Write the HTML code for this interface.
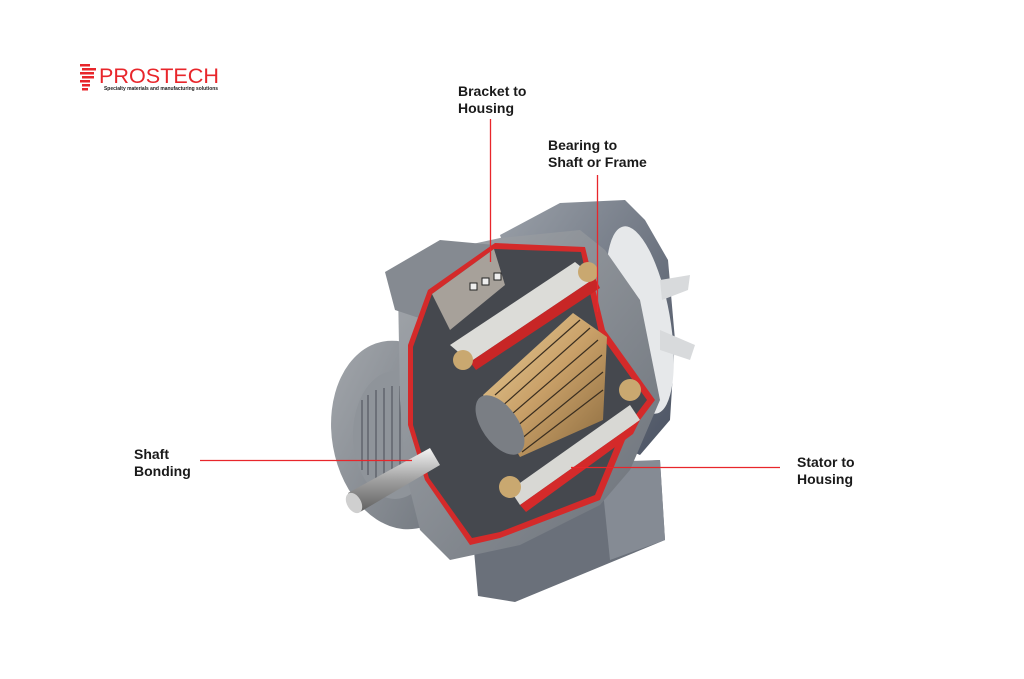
<!DOCTYPE html>
<html><head><meta charset="utf-8"><style>
html,body{margin:0;padding:0;background:#fff}
svg{display:block}
text{font-family:"Liberation Sans",sans-serif}
</style></head><body>
<svg width="1024" height="679" viewBox="0 0 1024 679" xmlns="http://www.w3.org/2000/svg">
<defs>
<linearGradient id="gold" x1="0" y1="0" x2="1" y2="1">
<stop offset="0" stop-color="#e8cf9a"/><stop offset="0.5" stop-color="#c9a068"/><stop offset="1" stop-color="#8a6a3e"/></linearGradient>
<linearGradient id="grey" x1="0" y1="0" x2="1" y2="1">
<stop offset="0" stop-color="#a4a8ad"/><stop offset="1" stop-color="#6a7078"/></linearGradient>
<linearGradient id="blue" x1="0" y1="0" x2="1" y2="1">
<stop offset="0" stop-color="#9aa0a8"/><stop offset="1" stop-color="#4a5262"/></linearGradient>
<linearGradient id="shaft" x1="0" y1="0" x2="0" y2="1">
<stop offset="0" stop-color="#f4f4f4"/><stop offset="0.5" stop-color="#a0a0a0"/><stop offset="1" stop-color="#606060"/></linearGradient>
</defs>
<!-- logo -->
<g fill="#e8262b">
<rect x="80" y="64" width="10" height="2.5"/><rect x="82" y="68" width="14" height="2.5"/><rect x="80" y="72" width="14" height="2.5"/>
<rect x="82" y="76" width="12" height="2.5"/><rect x="80" y="80" width="10" height="2.5"/><rect x="82" y="84" width="8" height="2.5"/><rect x="82" y="88" width="6" height="2.5"/>
</g>
<text x="99" y="83" font-size="21" fill="#e8262b" textLength="120" lengthAdjust="spacingAndGlyphs">PROSTECH</text>
<text x="104" y="90" font-size="5" fill="#222" font-weight="bold" textLength="114" lengthAdjust="spacingAndGlyphs">Specialty materials and manufacturing solutions</text>

<!-- back housing -->
<path d="M500,235 L560,203 L625,200 L645,220 L668,260 L675,340 L670,420 L640,455 L560,420 Z" fill="url(#blue)"/>
<!-- fan -->
<ellipse cx="640" cy="320" rx="30" ry="95" fill="#e6e8ea" transform="rotate(-10 640 320)"/>
<path d="M660,280 L690,275 L688,290 L662,300 Z M660,330 L695,345 L690,360 L660,350 Z" fill="#d8dadc"/>
<!-- base -->
<path d="M470,505 L540,468 L660,460 L665,540 L515,602 L478,596 Z" fill="#6a707a"/>
<path d="M600,462 L660,460 L665,540 L610,560 Z" fill="#858b94"/>
<!-- front end plate -->
<ellipse cx="400" cy="435" rx="68" ry="95" fill="url(#grey)" transform="rotate(-10 400 435)"/>
<ellipse cx="395" cy="435" rx="42" ry="64" fill="#8f949a"/>
<g stroke="#60656c" stroke-width="1.5">
<line x1="362" y1="400" x2="362" y2="470"/><line x1="368" y1="395" x2="368" y2="475"/><line x1="376" y1="390" x2="376" y2="480"/><line x1="384" y1="388" x2="384" y2="482"/><line x1="392" y1="386" x2="392" y2="484"/><line x1="400" y1="386" x2="400" y2="484"/><line x1="408" y1="388" x2="408" y2="482"/>
</g>
<!-- main body grey -->
<path d="M398,290 L400,268 L445,250 L500,238 L580,230 L605,250 L640,300 L660,400 L630,470 L600,505 L520,545 L450,560 L420,530 L405,470 L400,400 Z" fill="url(#grey)"/>
<!-- terminal box -->
<path d="M385,272 L440,240 L495,245 L500,300 L455,330 L395,310 Z" fill="#858a91"/>
<!-- red cutaway -->
<path d="M408,345 L428,290 L495,243 L585,247 L605,330 L655,400 L625,440 L600,500 L500,538 L470,545 L425,480 L408,425 Z" fill="#d42a2a"/>
<path d="M413,347 L432,294 L494,249 L581,252 L599,333 L647,400 L619,437 L595,495 L500,532 L472,538 L429,478 L413,425 Z" fill="#45484e"/>
<!-- terminal block -->
<path d="M432,294 L494,249 L505,285 L450,330 Z" fill="#a7a19a"/>
<g fill="#eee" stroke="#222" stroke-width="1"><rect x="470" y="283" width="7" height="7"/><rect x="482" y="278" width="7" height="7"/><rect x="494" y="273" width="7" height="7"/></g>
<!-- stator upper white bar -->
<path d="M450,345 L575,262 L595,278 L470,362 Z" fill="#dcdcd8"/>
<path d="M470,362 L595,278 L600,288 L476,370 Z" fill="#c82626"/>
<!-- lower stator bar -->
<path d="M510,490 L630,405 L640,420 L520,505 Z" fill="#d8d8d4"/>
<path d="M520,505 L640,420 L633,434 L526,512 Z" fill="#d42a2a"/>
<!-- rotor -->
<path d="M483,395 L573,313 L607,337 L603,420 L520,457 Z" fill="url(#gold)"/>
<g stroke="#3a2e20" stroke-width="1.2">
<line x1="495" y1="395" x2="580" y2="320"/><line x1="500" y1="408" x2="590" y2="328"/><line x1="505" y1="420" x2="598" y2="340"/><line x1="510" y1="432" x2="602" y2="355"/><line x1="515" y1="444" x2="603" y2="372"/><line x1="522" y1="452" x2="603" y2="390"/>
</g>
<ellipse cx="500" cy="425" rx="18" ry="34" fill="#7a7e84" transform="rotate(-35 500 425)"/>
<!-- coil ends -->
<circle cx="463" cy="360" r="10" fill="#c9a870"/><circle cx="588" cy="272" r="10" fill="#c9a870"/>
<circle cx="630" cy="390" r="11" fill="#c9a870"/><circle cx="510" cy="487" r="11" fill="#c9a870"/>
<!-- shaft -->
<path d="M348,493 L430,448 L440,465 L360,512 Z" fill="url(#shaft)"/>
<ellipse cx="354" cy="503" rx="7" ry="11" fill="#cfcfcf" transform="rotate(-30 354 503)"/>
<!-- leader lines -->
<g stroke="#e8262b" stroke-width="1.3">
<line x1="490.5" y1="119" x2="490.5" y2="262"/>
<line x1="597.5" y1="175" x2="597.5" y2="312"/>
<line x1="200" y1="460.5" x2="412" y2="460.5"/>
<line x1="571" y1="467.5" x2="780" y2="467.5"/>
</g>
<!-- labels -->
<g font-size="14" font-weight="bold" fill="#1a1a1a">
<text x="458" y="96">Bracket to</text><text x="458" y="113">Housing</text>
<text x="548" y="150">Bearing to</text><text x="548" y="167">Shaft or Frame</text>
<text x="134" y="459">Shaft</text><text x="134" y="476">Bonding</text>
<text x="797" y="467">Stator to</text><text x="797" y="484">Housing</text>
</g>
</svg>
</body></html>
